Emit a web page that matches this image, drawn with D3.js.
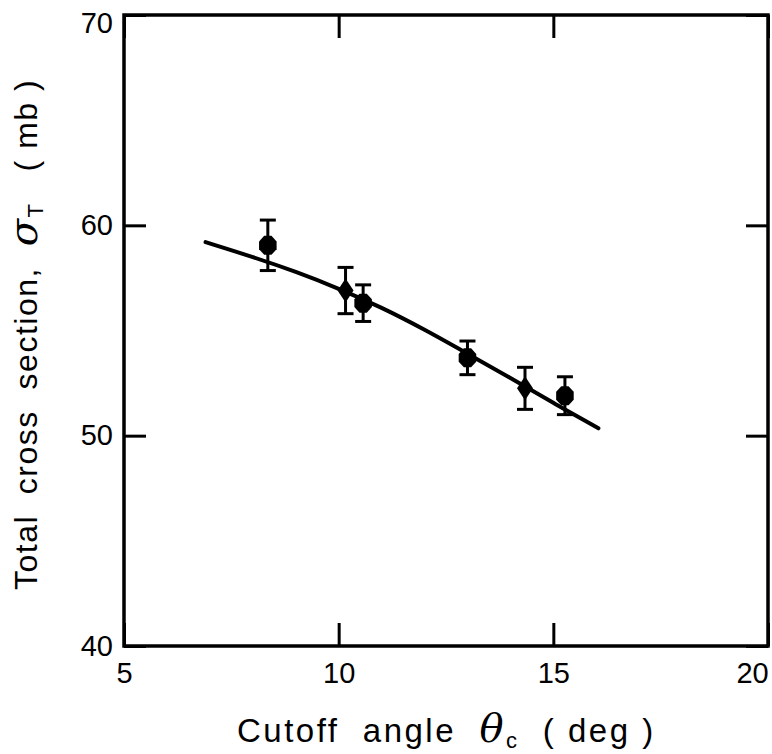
<!DOCTYPE html>
<html>
<head>
<meta charset="utf-8">
<script src="https://cdn.jsdelivr.net/npm/d3@7"></script>
<style>
  body { margin: 0; background: #fff; }
  text { font-family: "Liberation Sans", Arial, sans-serif; fill: #000; white-space: pre; }
</style>
</head>
<body>
<div id="vis"></div>
<script>
const FRAME_WIDTH = 772;
const FRAME_HEIGHT = 754;
const MARGINS = {left: 124, right: 4, top: 15, bottom: 108};

// measured points: cutoff angle (deg), sigma_T (mb), error (mb), marker kind
const angles = [8.35, 10.16, 10.57, 13.0, 14.34, 15.27];
const sigmas = [59.05, 56.9, 56.3, 53.7, 52.25, 51.9];
const errors = [1.2, 1.1, 0.87, 0.8, 1.0, 0.9];
const markers = ["oct", "dia", "oct", "oct", "dia", "oct"];

// fitted curve
const curveX = [6.9, 8, 9, 10, 11, 12, 13, 14, 15, 16.05];
const curveY = [59.2, 58.5, 57.8, 57.0, 56.1, 55.05, 53.9, 52.75, 51.55, 50.35];

const xTicks = [5, 10, 15, 20];
const yTicks = [40, 50, 60, 70];

const X_SCALE = d3.scaleLinear().domain([5, 20])
                  .range([MARGINS.left, FRAME_WIDTH - MARGINS.right]);
const Y_SCALE = d3.scaleLinear().domain([40, 70])
                  .range([FRAME_HEIGHT - MARGINS.bottom, MARGINS.top]);

const svg = d3.select("#vis").append("svg")
    .attr("width", FRAME_WIDTH)
    .attr("height", FRAME_HEIGHT);

const x0 = X_SCALE.range()[0], x1 = X_SCALE.range()[1];
const y0 = Y_SCALE.range()[0], y1 = Y_SCALE.range()[1];

// axes with inward ticks
const axBottom = svg.append("g")
    .attr("transform", "translate(0," + y0 + ")")
    .call(d3.axisBottom(X_SCALE).tickValues(xTicks).tickSize(-23).tickSizeOuter(0).tickPadding(16));
const axTop = svg.append("g")
    .attr("transform", "translate(0," + y1 + ")")
    .call(d3.axisTop(X_SCALE).tickValues(xTicks).tickSize(-23).tickSizeOuter(0).tickFormat(""));
const axLeft = svg.append("g")
    .attr("transform", "translate(" + x0 + ",0)")
    .call(d3.axisLeft(Y_SCALE).tickValues(yTicks).tickSize(-22).tickSizeOuter(0).tickPadding(11));
const axRight = svg.append("g")
    .attr("transform", "translate(" + x1 + ",0)")
    .call(d3.axisRight(Y_SCALE).tickValues(yTicks).tickSize(-22).tickSizeOuter(0).tickFormat(""));

[axBottom, axTop, axLeft, axRight].forEach(g => {
  g.select(".domain").remove();
  g.selectAll(".tick line").attr("stroke", "#000").attr("stroke-width", 3);
  g.selectAll(".tick text").attr("font-size", 29).attr("fill", "#000")
    .attr("font-family", "Liberation Sans, Arial, sans-serif");
});
axBottom.selectAll(".tick text").filter(d => d === 20).attr("dx", -16);
axLeft.selectAll(".tick text").filter(d => d === 70).attr("dy", "0.62em");

// frame
svg.append("rect")
    .attr("x", x0).attr("y", y1)
    .attr("width", x1 - x0).attr("height", y0 - y1)
    .attr("fill", "none").attr("stroke", "#000").attr("stroke-width", 3.5);

// curve
const line = d3.line()
    .x(d => X_SCALE(d[0])).y(d => Y_SCALE(d[1]))
    .curve(d3.curveBasis);
svg.append("path")
    .datum(d3.zip(curveX, curveY))
    .attr("d", line)
    .attr("fill", "none").attr("stroke", "#000")
    .attr("stroke-width", 4).attr("stroke-linecap", "round");

// error bars
const pts = angles.map((a, i) => ({x: a, y: sigmas[i], e: errors[i], m: markers[i]}));
const eb = svg.append("g").attr("stroke", "#000").attr("stroke-width", 3);
eb.selectAll(".bar").data(pts).enter().append("line")
    .attr("x1", d => X_SCALE(d.x)).attr("x2", d => X_SCALE(d.x))
    .attr("y1", d => Y_SCALE(d.y - d.e)).attr("y2", d => Y_SCALE(d.y + d.e));
eb.selectAll(".capHi").data(pts).enter().append("line")
    .attr("x1", d => X_SCALE(d.x) - 8).attr("x2", d => X_SCALE(d.x) + 8)
    .attr("y1", d => Y_SCALE(d.y + d.e)).attr("y2", d => Y_SCALE(d.y + d.e));
eb.selectAll(".capLo").data(pts).enter().append("line")
    .attr("x1", d => X_SCALE(d.x) - 8).attr("x2", d => X_SCALE(d.x) + 8)
    .attr("y1", d => Y_SCALE(d.y - d.e)).attr("y2", d => Y_SCALE(d.y - d.e));

// markers
const octagon = (() => {
  const r = 9.5, k = 8;
  return d3.range(k).map(i => {
    const t = Math.PI / k + i * 2 * Math.PI / k;
    return [r * Math.cos(t), r * 1.08 * Math.sin(t)];
  });
})();
const octPath = "M" + octagon.join("L") + "Z";
const diaPath = "M0,-12L8,0L0,12L-8,0Z";
svg.selectAll(".pt").data(pts).enter().append("path")
    .attr("transform", d => "translate(" + X_SCALE(d.x) + "," + Y_SCALE(d.y) + ")")
    .attr("d", d => d.m === "oct" ? octPath : diaPath)
    .attr("fill", "#000");

// axis titles
const xt = svg.append("text")
    .attr("x", 237).attr("y", 742)
    .attr("font-size", 33).attr("letter-spacing", 2.5);
xt.append("tspan").text("Cutoff  angle  ");
xt.append("tspan").attr("font-style", "italic").attr("font-size", 40).attr("font-family", "DejaVu Serif, serif").text("θ");
xt.append("tspan").attr("font-size", 22).attr("dy", 6).text("c");
xt.append("tspan").attr("dy", -6).text("  ( deg )");

const yt = svg.append("text")
    .attr("transform", "translate(37,590) rotate(-90)")
    .attr("font-size", 32).attr("letter-spacing", 1.5);
yt.append("tspan").text("Total  cross  section,  ");
yt.append("tspan").attr("font-style", "italic").attr("font-size", 40).attr("font-family", "DejaVu Serif, serif").text("σ");
yt.append("tspan").attr("font-size", 22).attr("dy", 6).text("T");
yt.append("tspan").attr("dy", -6).text("   ( mb )");
</script>
</body>
</html>
